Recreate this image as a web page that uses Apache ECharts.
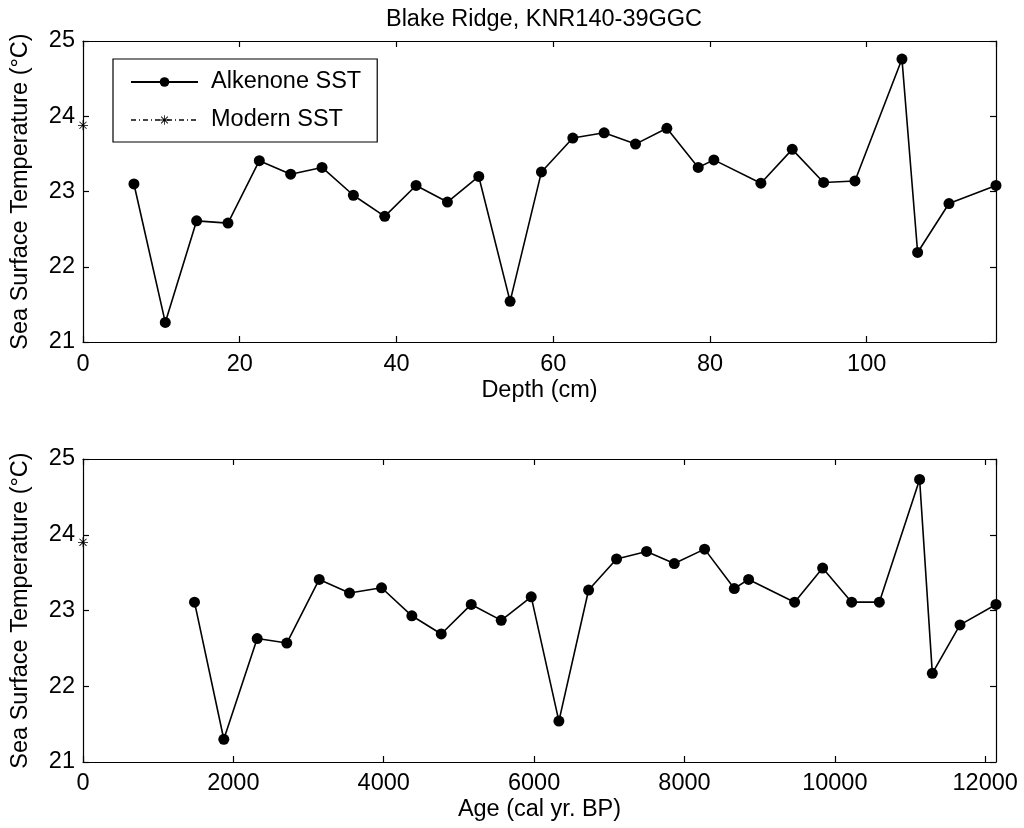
<!DOCTYPE html>
<html>
<head>
<meta charset="utf-8">
<script src="https://cdn.jsdelivr.net/npm/echarts@6/dist/echarts.min.js"></script>
<style>
html,body{margin:0;padding:0;background:#fff;}
#chart{width:1024px;height:828px;}
</style>
</head>
<body>
<div id="chart"></div>
<script>
// ---- data ----
const titleText = 'Blake Ridge, KNR140-39GGC';
const depthCm = [6.5,10.5,14.5,18.5,22.5,26.5,30.5,34.5,38.5,42.5,46.5,50.5,54.5,58.5,62.5,66.5,70.5,74.5,78.5,80.5,86.5,90.5,94.5,98.5,104.5,106.5,110.5,116.5];
const sstDepth = [23.10,21.26,22.61,22.58,23.41,23.23,23.32,22.95,22.67,23.08,22.86,23.20,21.54,23.26,23.71,23.78,23.63,23.84,23.32,23.42,23.11,23.56,23.12,23.14,24.76,22.19,22.84,23.08];
const ageBP = [1483,1873,2317,2711,3142,3545,3971,4374,4765,5164,5563,5962,6330,6725,7097,7496,7865,8268,8663,8853,9465,9838,10224,10592,11128,11297,11665,12144];
const sstAge = [23.11,21.30,22.63,22.57,23.41,23.23,23.30,22.93,22.69,23.08,22.87,23.18,21.54,23.27,23.68,23.78,23.62,23.81,23.29,23.41,23.11,23.56,23.11,23.11,24.73,22.17,22.81,23.08];
const modernX = [0];
const modernSSTDepthPanel = [23.88];
const modernSSTAgePanel = [23.9];
const yTicks = [21,22,23,24,25];
const depthTicks = [0,20,40,60,80,100];
const ageTicks = [0,2000,4000,6000,8000,10000,12000];

const FONT = 'Liberation Sans';
const FS = 23.5;
const starPath = 'path://M-0.08,-1 L0.08,-1 L0.08,1 L-0.08,1 Z M-1,-0.08 L1,-0.08 L1,0.08 L-1,0.08 Z M-0.65,-0.763 L0.763,0.65 L0.65,0.763 L-0.763,-0.65 Z M-0.763,0.65 L0.65,-0.763 L0.763,-0.65 L-0.65,0.763 Z';

function pairs(xs, ys){ return xs.map((x,i)=>[x, ys[i]]); }

function xAxes(gi, ticks, maxV, name, labelMargin, nameGap){
  const interval = ticks[1]-ticks[0];
  const common = {
    type:'value', gridIndex:gi, min:ticks[0], max:maxV, interval:interval,
    axisLine:{show:true, onZero:false, lineStyle:{color:'#000', width:1.2}},
    axisTick:{show:true, inside:true, length:6, lineStyle:{color:'#000', width:1.2}},
    splitLine:{show:false}
  };
  return [
    Object.assign({}, common, {
      position:'bottom', name:name, nameLocation:'middle', nameGap:nameGap,
      nameTextStyle:{color:'#000', fontFamily:FONT, fontSize:FS},
      axisLabel:{show:true, color:'#000', fontFamily:FONT, fontSize:FS, margin:labelMargin,
        showMaxLabel:false, formatter:(v)=>String(v)}
    }),
    Object.assign({}, common, {position:'top', axisLabel:{show:false}})
  ];
}
function yAxes(gi){
  const common = {
    type:'value', gridIndex:gi, min:yTicks[0], max:yTicks[yTicks.length-1], interval:yTicks[1]-yTicks[0],
    axisLine:{show:true, onZero:false, lineStyle:{color:'#000', width:1.2}},
    axisTick:{show:true, inside:true, length:6, lineStyle:{color:'#000', width:1.2}},
    splitLine:{show:false}
  };
  return [
    Object.assign({}, common, {
      position:'left', name:'Sea Surface Temperature (°C)', nameLocation:'middle', nameGap:50,
      nameTextStyle:{color:'#000', fontFamily:FONT, fontSize:FS},
      axisLabel:{show:true, color:'#000', fontFamily:FONT, fontSize:FS, margin:8}
    }),
    Object.assign({}, common, {position:'right', axisLabel:{show:false}})
  ];
}

function sstSeries(xi, yi, data){
  return {
    name:'Alkenone SST', type:'line', xAxisIndex:xi, yAxisIndex:yi, data:data,
    symbol:'circle', symbolSize:11, showAllSymbol:true,
    lineStyle:{color:'#000', width:1.6},
    itemStyle:{color:'#000'},
    animation:false, clip:false
  };
}
function modernSeries(xi, yi, data){
  return {
    name:'Modern SST', type:'line', xAxisIndex:xi, yAxisIndex:yi, data:data,
    symbol:starPath, symbolSize:10,
    lineStyle:{color:'#444', width:1, type:[5,3,1,3]},
    itemStyle:{color:'#000'},
    animation:false, clip:false
  };
}

const xa = xAxes(0, depthTicks, depthCm[depthCm.length-1], 'Depth (cm)', 11, 37)
  .concat(xAxes(1, ageTicks, ageBP[ageBP.length-1], 'Age (cal yr. BP)', 10, 36));
const ya = yAxes(0).concat(yAxes(1));

const option = {
  backgroundColor:'#fff',
  animation:false,
  title:{text:titleText, left:539, top:3, textAlign:'center',
    textStyle:{color:'#000', fontFamily:FONT, fontSize:FS, fontWeight:'normal'}},
  grid:[
    {left:83, right:28, top:41, height:301},
    {left:83, right:28, top:459, height:303}
  ],
  legend:{
    data:['Alkenone SST','Modern SST'],
    orient:'vertical', left:113, top:59,
    itemWidth:67, itemHeight:12, itemGap:14,
    padding:[11,16,10,17],
    borderColor:'#000', borderWidth:1.2, backgroundColor:'#fff',
    textStyle:{color:'#000', fontFamily:FONT, fontSize:FS, padding:[0,0,0,8]}
  },
  xAxis:xa,
  yAxis:ya,
  series:[
    sstSeries(0,0,pairs(depthCm, sstDepth)),
    modernSeries(0,0,pairs(modernX, modernSSTDepthPanel)),
    sstSeries(2,2,pairs(ageBP, sstAge)),
    modernSeries(2,2,pairs(modernX, modernSSTAgePanel))
  ]
};
const chart = echarts.init(document.getElementById('chart'), null, {renderer:'canvas'});
chart.setOption(option);
</script>
</body>
</html>
